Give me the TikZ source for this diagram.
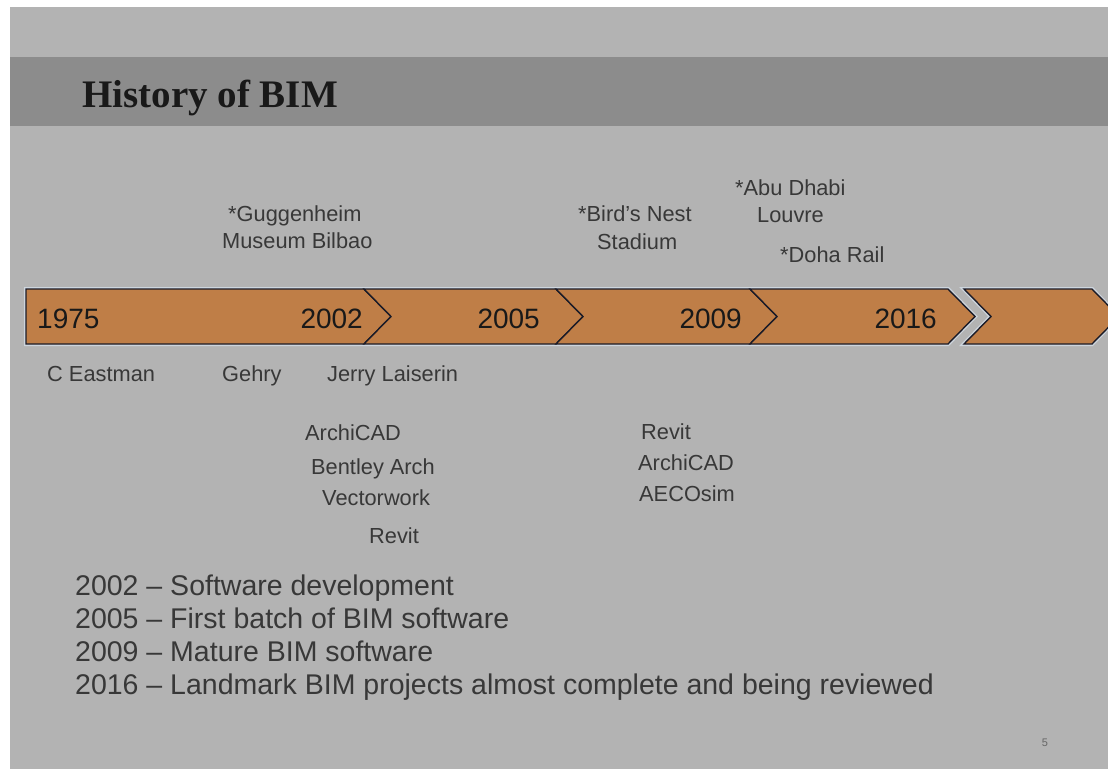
\documentclass[tikz,border=0pt]{standalone}
\usepackage{fontspec}
\setmainfont{Liberation Sans}
\newfontfamily\titlefont{Liberation Serif}
\usetikzlibrary{positioning}
\definecolor{slidegray}{HTML}{B3B3B3}
\definecolor{bandgray}{HTML}{8C8C8C}
\definecolor{barorange}{HTML}{BF7E47}
\definecolor{barline}{HTML}{1C1C28}
\definecolor{halo}{HTML}{CDD5DD}
\definecolor{txtgray}{HTML}{383838}

\begin{document}
\begin{tikzpicture}[x=1pt,y=-1pt,
    yr/.style={inner sep=0pt,font=\fontsize{28}{28}\selectfont,text=black!90},
    lbl/.style={inner sep=0pt,anchor=base west,font=\fontsize{21.8}{21.8}\selectfont,text=txtgray},
    item/.style={inner sep=0pt,anchor=base west,font=\fontsize{28.5}{28.5}\selectfont,text=txtgray},
    chev/.style={fill=barorange,draw=barline,line width=1.4pt,line join=miter}]
    \useasboundingbox (0,0) rectangle (1108,769);
    \fill [white] (0,0) rectangle (1108,769);
    \fill [slidegray] (10,7) rectangle (1108,769);
    \fill [bandgray] (10,57) rectangle (1108,126);
    \node [inner sep=0pt,anchor=base west,font=\titlefont\bfseries\fontsize{39}{39}\selectfont,text=black!90] (title) at (82,107) {History of BIM};

    % timeline bar
    \draw [halo,line width=4pt] (26,289) -- (948,289) -- (975,316.5) -- (948,344) -- (26,344) -- cycle;
    \draw [halo,line width=4pt] (964,289) -- (1092,289) -- (1119,316.5) -- (1092,344) -- (964,344) -- (991,316.5) -- cycle;
    \draw [chev] (26,289) -- (364,289) -- (391,316.5) -- (364,344) -- (26,344) -- cycle;
    \draw [chev] (364,289) -- (556,289) -- (583,316.5) -- (556,344) -- (364,344) -- (391,316.5) -- cycle;
    \draw [chev] (556,289) -- (750,289) -- (777,316.5) -- (750,344) -- (556,344) -- (583,316.5) -- cycle;
    \draw [chev] (750,289) -- (948,289) -- (975,316.5) -- (948,344) -- (750,344) -- (777,316.5) -- cycle;
    \draw [chev] (964,289) -- (1092,289) -- (1119,316.5) -- (1092,344) -- (964,344) -- (991,316.5) -- cycle;

    \node [yr,anchor=base west] (y1975) at (37,328) {1975};
    \node [yr,anchor=base east] (y2002) at (363,328) {2002};
    \node [yr,anchor=base east] (y2005) at (540,328) {2005};
    \node [yr,anchor=base east] (y2009) at (742,328) {2009};
    \node [yr,anchor=base east] (y2016) at (937,328) {2016};

    % projects above the bar
    \node [lbl] (gug) at (228,221) {*Guggenheim};
    \node [lbl] (bilbao) at (222,248) {Museum Bilbao};
    \node [lbl] (bird) at (578,221) {*Bird{\char"0027}s Nest};
    \node [lbl] (stadium) at (597,249) {Stadium};
    \node [lbl] (abu) at (735,195) {*Abu Dhabi};
    \node [lbl] (louvre) at (757,222) {Louvre};
    \node [lbl] (doha) at (780,262) {*Doha Rail};

    % people and software below the bar
    \node [lbl] (eastman) at (47,381) {C Eastman};
    \node [lbl] (gehry) at (222,381) {Gehry};
    \node [lbl] (laiserin) at (327,381) {Jerry Laiserin};
    \node [lbl] (archicad1) at (305,440) {ArchiCAD};
    \node [lbl] (bentley) at (311,474) {Bentley Arch};
    \node [lbl] (vector) at (322,505) {Vectorwork};
    \node [lbl] (revit1) at (369,543) {Revit};
    \node [lbl] (revit2) at (641,439) {Revit};
    \node [lbl] (archicad2) at (638,470) {ArchiCAD};
    \node [lbl] (aecosim) at (639,501) {AECOsim};

    % summary list
    \node [item] (l2002) at (75,595) {2002 -- Software development};
    \node [item] (l2005) at (75,628) {2005 -- First batch of BIM software};
    \node [item] (l2009) at (75,661) {2009 -- Mature BIM software};
    \node [item] (l2016) at (75,694) {2016 -- Landmark BIM projects almost complete and being reviewed};

    \node [inner sep=0pt,font=\fontsize{11}{11}\selectfont,text=black!60] (pageno) at (1045,743) {5};
\end{tikzpicture}
\end{document}
